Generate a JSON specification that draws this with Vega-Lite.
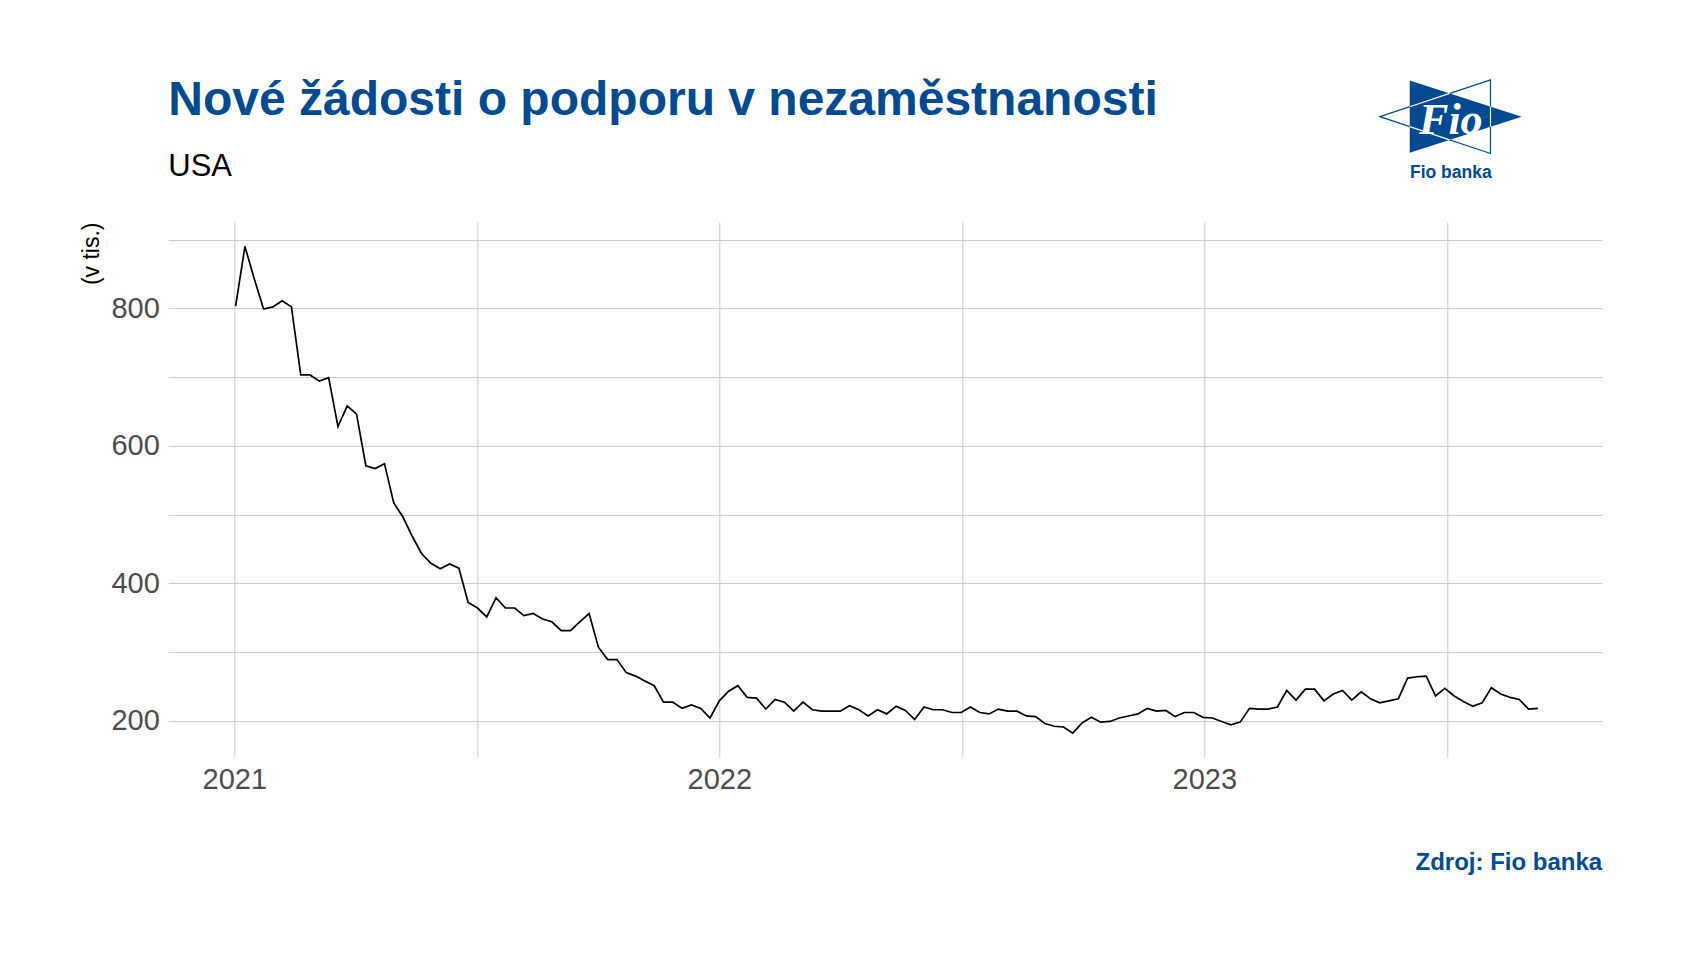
{
  "$schema": "https://vega.github.io/schema/vega-lite/v6.json",
  "autosize": "none",
  "width": 1433.4,
  "height": 535,
  "padding": {"left": 168.3, "top": 222, "right": 80.3, "bottom": 197},
  "background": "white",
  "title": {
    "text": "Nové žádosti o podporu v nezaměstnanosti",
    "subtitle": "USA",
    "anchor": "start",
    "frame": "group",
    "baseline": "top",
    "font": "Liberation Sans",
    "fontSize": 48,
    "fontWeight": "bold",
    "color": "#004A91",
    "subtitleFont": "Liberation Sans",
    "subtitleFontSize": 31,
    "subtitleFontWeight": "normal",
    "subtitleColor": "#000000",
    "subtitlePadding": 26.5,
    "offset": -104.5
  },
  "config": {
    "view": {"stroke": null},
    "font": "Liberation Sans"
  },
  "layer": [
    {
      "data": {
        "values": [
          {"date": "2021-01-02T00:00:00", "claims": 803},
          {"date": "2021-01-09T00:00:00", "claims": 890},
          {"date": "2021-01-16T00:00:00", "claims": 843},
          {"date": "2021-01-23T00:00:00", "claims": 799},
          {"date": "2021-01-30T00:00:00", "claims": 802},
          {"date": "2021-02-06T00:00:00", "claims": 811},
          {"date": "2021-02-13T00:00:00", "claims": 802},
          {"date": "2021-02-20T00:00:00", "claims": 703},
          {"date": "2021-02-27T00:00:00", "claims": 703},
          {"date": "2021-03-06T00:00:00", "claims": 694},
          {"date": "2021-03-13T00:00:00", "claims": 699},
          {"date": "2021-03-20T00:00:00", "claims": 628},
          {"date": "2021-03-27T00:00:00", "claims": 658},
          {"date": "2021-04-03T00:00:00", "claims": 646},
          {"date": "2021-04-10T00:00:00", "claims": 571},
          {"date": "2021-04-17T00:00:00", "claims": 567},
          {"date": "2021-04-24T00:00:00", "claims": 574},
          {"date": "2021-05-01T00:00:00", "claims": 517},
          {"date": "2021-05-08T00:00:00", "claims": 496},
          {"date": "2021-05-15T00:00:00", "claims": 468},
          {"date": "2021-05-22T00:00:00", "claims": 443},
          {"date": "2021-05-29T00:00:00", "claims": 429},
          {"date": "2021-06-05T00:00:00", "claims": 421},
          {"date": "2021-06-12T00:00:00", "claims": 428},
          {"date": "2021-06-19T00:00:00", "claims": 422},
          {"date": "2021-06-26T00:00:00", "claims": 372},
          {"date": "2021-07-03T00:00:00", "claims": 364},
          {"date": "2021-07-10T00:00:00", "claims": 351},
          {"date": "2021-07-17T00:00:00", "claims": 379},
          {"date": "2021-07-24T00:00:00", "claims": 364},
          {"date": "2021-07-31T00:00:00", "claims": 364},
          {"date": "2021-08-07T00:00:00", "claims": 353},
          {"date": "2021-08-14T00:00:00", "claims": 356},
          {"date": "2021-08-21T00:00:00", "claims": 348},
          {"date": "2021-08-28T00:00:00", "claims": 344},
          {"date": "2021-09-04T00:00:00", "claims": 331},
          {"date": "2021-09-11T00:00:00", "claims": 331},
          {"date": "2021-09-18T00:00:00", "claims": 344},
          {"date": "2021-09-25T00:00:00", "claims": 356},
          {"date": "2021-10-02T00:00:00", "claims": 307},
          {"date": "2021-10-09T00:00:00", "claims": 289},
          {"date": "2021-10-16T00:00:00", "claims": 289},
          {"date": "2021-10-23T00:00:00", "claims": 270},
          {"date": "2021-10-30T00:00:00", "claims": 265},
          {"date": "2021-11-06T00:00:00", "claims": 258},
          {"date": "2021-11-13T00:00:00", "claims": 251},
          {"date": "2021-11-20T00:00:00", "claims": 227},
          {"date": "2021-11-27T00:00:00", "claims": 227},
          {"date": "2021-12-04T00:00:00", "claims": 218},
          {"date": "2021-12-11T00:00:00", "claims": 223},
          {"date": "2021-12-18T00:00:00", "claims": 218},
          {"date": "2021-12-25T00:00:00", "claims": 204},
          {"date": "2022-01-01T00:00:00", "claims": 229},
          {"date": "2022-01-08T00:00:00", "claims": 243},
          {"date": "2022-01-15T00:00:00", "claims": 251},
          {"date": "2022-01-22T00:00:00", "claims": 234},
          {"date": "2022-01-29T00:00:00", "claims": 233},
          {"date": "2022-02-05T00:00:00", "claims": 217},
          {"date": "2022-02-12T00:00:00", "claims": 231},
          {"date": "2022-02-19T00:00:00", "claims": 227},
          {"date": "2022-02-26T00:00:00", "claims": 214},
          {"date": "2022-03-05T00:00:00", "claims": 227},
          {"date": "2022-03-12T00:00:00", "claims": 216},
          {"date": "2022-03-19T00:00:00", "claims": 214},
          {"date": "2022-03-26T00:00:00", "claims": 214},
          {"date": "2022-04-02T00:00:00", "claims": 214},
          {"date": "2022-04-09T00:00:00", "claims": 222},
          {"date": "2022-04-16T00:00:00", "claims": 216},
          {"date": "2022-04-23T00:00:00", "claims": 207},
          {"date": "2022-04-30T00:00:00", "claims": 216},
          {"date": "2022-05-07T00:00:00", "claims": 210},
          {"date": "2022-05-14T00:00:00", "claims": 221},
          {"date": "2022-05-21T00:00:00", "claims": 215},
          {"date": "2022-05-28T00:00:00", "claims": 202},
          {"date": "2022-06-04T00:00:00", "claims": 220},
          {"date": "2022-06-11T00:00:00", "claims": 216},
          {"date": "2022-06-18T00:00:00", "claims": 216},
          {"date": "2022-06-25T00:00:00", "claims": 212},
          {"date": "2022-07-02T00:00:00", "claims": 212},
          {"date": "2022-07-09T00:00:00", "claims": 220},
          {"date": "2022-07-16T00:00:00", "claims": 212},
          {"date": "2022-07-23T00:00:00", "claims": 210},
          {"date": "2022-07-30T00:00:00", "claims": 217},
          {"date": "2022-08-06T00:00:00", "claims": 214},
          {"date": "2022-08-13T00:00:00", "claims": 214},
          {"date": "2022-08-20T00:00:00", "claims": 207},
          {"date": "2022-08-27T00:00:00", "claims": 206},
          {"date": "2022-09-03T00:00:00", "claims": 196},
          {"date": "2022-09-10T00:00:00", "claims": 192},
          {"date": "2022-09-17T00:00:00", "claims": 191},
          {"date": "2022-09-24T00:00:00", "claims": 182},
          {"date": "2022-10-01T00:00:00", "claims": 197},
          {"date": "2022-10-08T00:00:00", "claims": 205},
          {"date": "2022-10-15T00:00:00", "claims": 198},
          {"date": "2022-10-22T00:00:00", "claims": 199},
          {"date": "2022-10-29T00:00:00", "claims": 204},
          {"date": "2022-11-05T00:00:00", "claims": 207},
          {"date": "2022-11-12T00:00:00", "claims": 210},
          {"date": "2022-11-19T00:00:00", "claims": 218},
          {"date": "2022-11-26T00:00:00", "claims": 214},
          {"date": "2022-12-03T00:00:00", "claims": 215},
          {"date": "2022-12-10T00:00:00", "claims": 206},
          {"date": "2022-12-17T00:00:00", "claims": 212},
          {"date": "2022-12-24T00:00:00", "claims": 212},
          {"date": "2022-12-31T00:00:00", "claims": 205},
          {"date": "2023-01-07T00:00:00", "claims": 204},
          {"date": "2023-01-14T00:00:00", "claims": 199},
          {"date": "2023-01-21T00:00:00", "claims": 194},
          {"date": "2023-01-28T00:00:00", "claims": 198},
          {"date": "2023-02-04T00:00:00", "claims": 218},
          {"date": "2023-02-11T00:00:00", "claims": 217},
          {"date": "2023-02-18T00:00:00", "claims": 217},
          {"date": "2023-02-25T00:00:00", "claims": 220},
          {"date": "2023-03-04T00:00:00", "claims": 244},
          {"date": "2023-03-11T00:00:00", "claims": 230},
          {"date": "2023-03-18T00:00:00", "claims": 246},
          {"date": "2023-03-25T00:00:00", "claims": 246},
          {"date": "2023-04-01T00:00:00", "claims": 229},
          {"date": "2023-04-08T00:00:00", "claims": 239},
          {"date": "2023-04-15T00:00:00", "claims": 244},
          {"date": "2023-04-22T00:00:00", "claims": 230},
          {"date": "2023-04-29T00:00:00", "claims": 242},
          {"date": "2023-05-06T00:00:00", "claims": 232},
          {"date": "2023-05-13T00:00:00", "claims": 226},
          {"date": "2023-05-20T00:00:00", "claims": 229},
          {"date": "2023-05-27T00:00:00", "claims": 232},
          {"date": "2023-06-03T00:00:00", "claims": 262},
          {"date": "2023-06-10T00:00:00", "claims": 264},
          {"date": "2023-06-17T00:00:00", "claims": 265},
          {"date": "2023-06-24T00:00:00", "claims": 236},
          {"date": "2023-07-01T00:00:00", "claims": 247},
          {"date": "2023-07-08T00:00:00", "claims": 236},
          {"date": "2023-07-15T00:00:00", "claims": 228},
          {"date": "2023-07-22T00:00:00", "claims": 221},
          {"date": "2023-07-29T00:00:00", "claims": 226},
          {"date": "2023-08-05T00:00:00", "claims": 248},
          {"date": "2023-08-12T00:00:00", "claims": 239},
          {"date": "2023-08-19T00:00:00", "claims": 234},
          {"date": "2023-08-26T00:00:00", "claims": 231},
          {"date": "2023-09-02T00:00:00", "claims": 217},
          {"date": "2023-09-09T00:00:00", "claims": 218}
        ]
      },
      "mark": {"type": "line", "color": "#000000", "strokeWidth": 1.7},
      "encoding": {
        "x": {
          "field": "date",
          "type": "temporal",
          "scale": {
            "domain": [
              {"year": 2020, "month": 11, "date": 12, "hours": 8},
              {"year": 2023, "month": 10, "date": 27, "hours": 1}
            ],
            "nice": false
          },
          "axis": {
            "values": [
              {"year": 2021, "month": 1, "date": 1},
              {"year": 2021, "month": 7, "date": 2, "hours": 12},
              {"year": 2022, "month": 1, "date": 1},
              {"year": 2022, "month": 7, "date": 2, "hours": 12},
              {"year": 2023, "month": 1, "date": 1},
              {"year": 2023, "month": 7, "date": 2, "hours": 12}
            ],
            "labelExpr": "month(datum.value) === 0 ? timeFormat(datum.value, '%Y') : ''",
            "title": "Zdroj: Fio banka",
            "titleAnchor": "end",
            "titleAlign": "right",
            "titleFont": "Liberation Sans",
            "titleFontSize": 24,
            "titleFontWeight": "bold",
            "titleColor": "#004A91",
            "titlePadding": 56,
            "grid": true,
            "gridColor": "#CCCCCC",
            "gridWidth": 1,
            "ticks": false,
            "tickSize": 0,
            "domain": false,
            "labelFont": "Liberation Sans",
            "labelFontSize": 29,
            "labelColor": "#4D4D4D",
            "labelPadding": 8.3,
            "labelFlush": false,
            "labelOverlap": false
          }
        },
        "y": {
          "field": "claims",
          "type": "quantitative",
          "scale": {"domain": [147.3, 925.5], "nice": false, "zero": false},
          "axis": {
            "values": [200, 300, 400, 500, 600, 700, 800, 900],
            "labelExpr": "datum.value % 200 === 0 ? datum.label : ''",
            "title": "(v tis.)",
            "titleAnchor": "end",
            "titleFont": "Liberation Sans",
            "titleFontSize": 23,
            "titleFontWeight": "normal",
            "titleColor": "#000000",
            "titlePadding": 7.6,
            "grid": true,
            "gridColor": "#CCCCCC",
            "gridWidth": 1,
            "ticks": false,
            "tickSize": 0,
            "domain": false,
            "labelFont": "Liberation Sans",
            "labelFontSize": 29,
            "labelColor": "#4D4D4D",
            "labelPadding": 9,
            "labelOverlap": false
          }
        }
      }
    },
    {
      "data": {"values": [{}]},
      "mark": {
        "type": "point",
        "shape": "M -1 0 L 0.56 -0.52 L 0.56 0.52 Z",
        "filled": false,
        "stroke": "#004A91",
        "strokeWidth": 1.2,
        "opacity": 1,
        "size": 20079
      },
      "encoding": {
        "x": {"datum": {"year": 2023, "month": 7, "date": 5, "hours": 12}, "type": "temporal"},
        "y": {"datum": 1078.7, "type": "quantitative"}
      }
    },
    {
      "data": {"values": [{}]},
      "mark": {
        "type": "point",
        "shape": "M -0.58 -0.51 L -0.58 0.51 L 1 0 Z",
        "filled": true,
        "fill": "#004A91",
        "strokeWidth": 0,
        "opacity": 1,
        "size": 20079
      },
      "encoding": {
        "x": {"datum": {"year": 2023, "month": 7, "date": 5, "hours": 12}, "type": "temporal"},
        "y": {"datum": 1078.7, "type": "quantitative"}
      }
    },
    {
      "data": {"values": [{}]},
      "mark": {
        "type": "point",
        "shape": "M -0.58 -0.14 L -0.016 -0.328 M -0.58 0.14 L -0.016 0.328 M 0.56 -0.142 L 0.56 0.142",
        "filled": false,
        "stroke": "#FFFFFF",
        "strokeWidth": 1.2,
        "opacity": 1,
        "size": 20079
      },
      "encoding": {
        "x": {"datum": {"year": 2023, "month": 7, "date": 5, "hours": 12}, "type": "temporal"},
        "y": {"datum": 1078.7, "type": "quantitative"}
      }
    },
    {
      "data": {"values": [{}]},
      "mark": {
        "type": "text",
        "text": "Fio",
        "font": "Liberation Serif",
        "fontStyle": "italic",
        "fontWeight": "bold",
        "fontSize": 44,
        "color": "#FFFFFF",
        "align": "center",
        "baseline": "alphabetic"
      },
      "encoding": {
        "x": {"datum": {"year": 2023, "month": 7, "date": 5, "hours": 12}, "type": "temporal"},
        "y": {"datum": 1054, "type": "quantitative"}
      }
    },
    {
      "data": {"values": [{}]},
      "mark": {
        "type": "text",
        "text": "Fio banka",
        "font": "Liberation Sans",
        "fontWeight": "bold",
        "fontSize": 17.5,
        "color": "#004A91",
        "align": "center",
        "baseline": "alphabetic"
      },
      "encoding": {
        "x": {"datum": {"year": 2023, "month": 7, "date": 5, "hours": 12}, "type": "temporal"},
        "y": {"datum": 989.1, "type": "quantitative"}
      }
    }
  ]
}
